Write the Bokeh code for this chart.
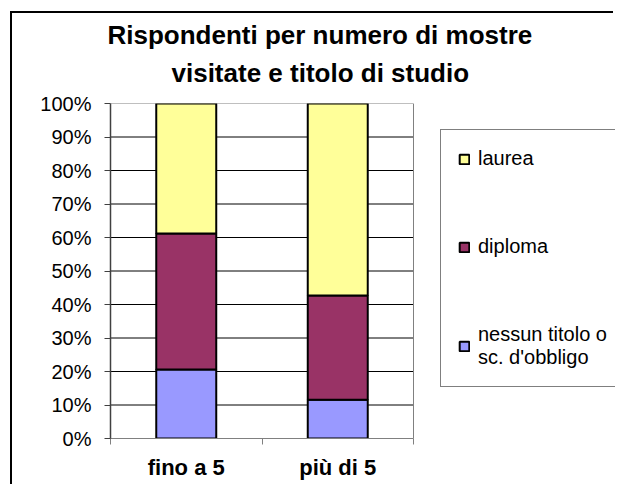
from bokeh.plotting import figure
from bokeh.models import (ColumnDataSource, FixedTicker, Legend, LegendItem,
                          Title)
from bokeh.embed import file_html
from bokeh.resources import INLINE

# ---- data ----
categories = ["fino a 5", "più di 5"]
series_labels = ["nessun titolo o\nsc. d'obbligo", "diploma", "laurea"]
nessun = [20.6, 11.6]
diploma = [40.6, 31.1]
laurea = [38.8, 57.3]
y_ticks = [0, 10, 20, 30, 40, 50, 60, 70, 80, 90, 100]
y_tick_labels = ["0%", "10%", "20%", "30%", "40%", "50%", "60%", "70%", "80%", "90%", "100%"]
title_lines = ["Rispondenti per numero di mostre", "visitate e titolo di studio"]
colors = ["#9999FF", "#993366", "#FFFF99"]

FONT = "Liberation Sans"
N = len(categories)

x = [i + 0.5 for i in range(N)]
src = ColumnDataSource(dict(
    x=x,
    nessun=[v / 100 for v in nessun],
    diploma=[v / 100 for v in diploma],
    laurea=[v / 100 for v in laurea],
))
yt = [t / 100 for t in y_ticks]

# plot area is 303px wide for the categories; the frame continues to the right
# (up to the canvas edge) so that the legend can live inside it
PLOT_W, FRAME_W = 303, 505
p = figure(width=603, height=473, x_range=(0, N * FRAME_W / PLOT_W), y_range=(0, 1),
           output_backend="svg", toolbar_location=None,
           min_border_left=98, min_border_right=0, min_border_top=90,
           min_border_bottom=48)
p.styles = {"margin-left": "10px", "margin-top": "11px",
            "border-left": "2px solid black", "border-top": "2px solid black"}
p.background_fill_color = "white"
p.border_fill_color = "white"
p.outline_line_color = None
p.xgrid.visible = False
p.ygrid.visible = False

xa = p.below[0]
ya = p.left[0]

# small gap between the frame and the title block
gap = Title(text=" ", text_font_size="1px", standoff=11)
p.add_layout(gap, "above")

# title (two lines)
t2 = Title(text=title_lines[1], align="left", offset=61, text_font=FONT,
           text_font_size="26px", text_font_style="bold", text_color="black",
           standoff=4)
p.add_layout(t2, "above")
p.title.text = title_lines[0]
p.title.align = "left"
p.title.offset = -3
p.title.text_font = FONT
p.title.text_font_size = "26px"
p.title.text_font_style = "bold"
p.title.text_color = "black"
p.title.standoff = 8

# horizontal grid lines and plot-area border
p.segment(x0=[0] * (len(yt) - 2), x1=[N] * (len(yt) - 2), y0=yt[1:-1], y1=yt[1:-1],
          line_color="black", line_width=1)
p.quad(left=[0], right=[N], bottom=[0], top=[1], fill_color=None,
       line_color="#808080", line_width=1)

rs = p.vbar_stack(["nessun", "diploma", "laurea"], x="x", width=0.396,
                  fill_color=colors, line_color="black", line_width=2,
                  source=src)

# x axis (bottom)
xa.bounds = (0, N)
xa.ticker = FixedTicker(ticks=x, minor_ticks=list(range(N + 1)))
xa.major_label_overrides = {xi: c for xi, c in zip(x, categories)}
xa.major_tick_out = 0
xa.major_tick_in = 0
xa.minor_tick_out = 6
xa.minor_tick_in = 0
xa.minor_tick_line_color = "#808080"
xa.axis_line_color = "#808080"
xa.major_label_standoff = 10
xa.major_label_text_font = FONT
xa.major_label_text_font_size = "22px"
xa.major_label_text_font_style = "bold"
xa.major_label_text_color = "black"

# y axis
ya.ticker = FixedTicker(ticks=yt, minor_ticks=[])
ya.major_label_overrides = {v: l for v, l in zip(yt, y_tick_labels)}
ya.major_tick_out = 6
ya.major_tick_in = 0
ya.major_tick_line_color = "#404040"
ya.axis_line_color = "#404040"
ya.axis_line_width = 1.5
ya.major_label_standoff = 13
ya.major_label_text_font = FONT
ya.major_label_text_font_size = "20px"
ya.major_label_text_color = "black"

# legend
items = [LegendItem(label=series_labels[i], renderers=[rs[i]])
         for i in reversed(range(len(series_labels)))]
legend = Legend(items=items, location=(330, 51), margin=0,
                border_line_color="black", border_line_width=1,
                background_fill_color="white", background_fill_alpha=1,
                padding=17, spacing=65, glyph_width=12, glyph_height=12,
                label_standoff=8, label_text_font=FONT,
                label_text_font_size="20px", label_text_color="black")
p.add_layout(legend)

open("out.html", "w").write(file_html(p, INLINE))
